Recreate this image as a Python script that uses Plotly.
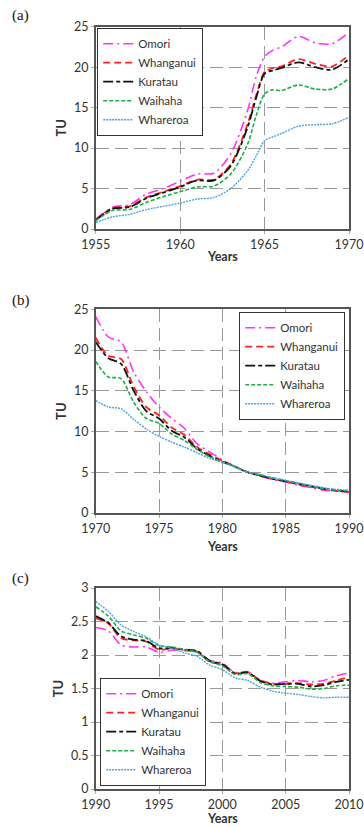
import plotly.graph_objects as go

# ---------------- data ----------------
names = ["Omori", "Whanganui", "Kuratau", "Waihaha", "Whareroa"]

years_a = [1955, 1956, 1957, 1958, 1959, 1960, 1961, 1962, 1963, 1964, 1964.5,
           1965, 1965.5, 1966, 1967, 1968, 1969, 1970]
omori_a = [1.2, 2.7, 3.0, 4.3, 5.0, 5.9, 6.8, 6.9, 9.3, 14.7, 18.8,
           21.3, 22.1, 22.5, 23.8, 23.0, 22.9, 24.3]
whanganui_a = [1.1, 2.6, 2.8, 3.9, 4.6, 5.3, 6.1, 6.1, 8.0, 13.0, 16.5,
               19.4, 19.9, 20.1, 21.0, 20.4, 20.1, 21.5]
kuratau_a = [1.1, 2.5, 2.7, 3.8, 4.5, 5.2, 6.0, 6.0, 7.8, 12.6, 16.2,
             19.2, 19.6, 19.9, 20.6, 20.0, 19.7, 21.0]
waihaha_a = [1.0, 2.3, 2.4, 3.3, 4.0, 4.6, 5.2, 5.3, 6.8, 10.5, 14.0,
             16.7, 17.2, 17.1, 17.8, 17.3, 17.3, 18.6]
whareroa_a = [0.8, 1.5, 1.8, 2.4, 2.8, 3.2, 3.7, 3.9, 5.0, 7.2, 9.0,
              10.9, 11.4, 11.8, 12.7, 12.9, 13.0, 13.8]

years_b = list(range(1970, 1991))
omori_b = [24.1, 21.6, 21.0, 17.3, 14.9, 13.0, 11.6, 10.4, 8.5, 7.5, 6.5,
           5.7, 5.0, 4.5, 4.1, 3.8, 3.4, 3.1, 2.8, 2.7, 2.6]
whanganui_b = [21.5, 19.3, 18.9, 15.5, 13.0, 12.0, 10.5, 9.6, 8.1, 7.2, 6.4,
               5.7, 5.0, 4.6, 4.2, 3.9, 3.5, 3.2, 2.9, 2.7, 2.6]
kuratau_b = [21.0, 19.0, 18.3, 15.0, 12.5, 11.6, 10.1, 9.3, 7.9, 7.0, 6.3,
             5.7, 5.0, 4.6, 4.2, 3.9, 3.6, 3.3, 3.0, 2.8, 2.6]
waihaha_b = [18.6, 16.7, 16.5, 13.6, 11.6, 11.0, 9.7, 8.9, 7.8, 6.9, 6.3,
             5.7, 5.0, 4.7, 4.3, 4.0, 3.6, 3.3, 3.0, 2.8, 2.7]
whareroa_b = [13.8, 13.0, 12.8, 11.5, 10.3, 9.4, 8.7, 8.1, 7.4, 6.7, 6.2,
              5.6, 5.0, 4.7, 4.3, 4.0, 3.7, 3.4, 3.1, 2.9, 2.8]

years_c = list(range(1990, 2011))
omori_c = [2.41, 2.36, 2.15, 2.12, 2.12, 2.04, 2.07, 2.07, 2.04, 1.92, 1.88,
           1.74, 1.75, 1.62, 1.58, 1.60, 1.62, 1.60, 1.62, 1.69, 1.73]
whanganui_c = [2.55, 2.47, 2.25, 2.22, 2.20, 2.08, 2.10, 2.07, 2.05, 1.90, 1.86,
               1.73, 1.74, 1.62, 1.57, 1.57, 1.58, 1.56, 1.57, 1.62, 1.67]
kuratau_c = [2.58, 2.48, 2.28, 2.23, 2.21, 2.10, 2.11, 2.08, 2.06, 1.91, 1.86,
             1.72, 1.74, 1.61, 1.56, 1.57, 1.57, 1.53, 1.55, 1.60, 1.63]
waihaha_c = [2.72, 2.58, 2.36, 2.30, 2.25, 2.14, 2.12, 2.08, 2.04, 1.90, 1.84,
             1.71, 1.72, 1.59, 1.54, 1.53, 1.52, 1.49, 1.50, 1.54, 1.55]
whareroa_c = [2.80, 2.65, 2.45, 2.35, 2.27, 2.15, 2.10, 2.03, 1.98, 1.85, 1.78,
              1.66, 1.62, 1.52, 1.46, 1.43, 1.41, 1.38, 1.36, 1.37, 1.37]

panel_labels = ["(a)", "(b)", "(c)"]
x_ticks_a = [1955, 1960, 1965, 1970]
x_ticks_b = [1970, 1975, 1980, 1985, 1990]
x_ticks_c = [1990, 1995, 2000, 2005, 2010]
y_ticks_ab = [0, 5, 10, 15, 20, 25]
y_ticks_c = [0, 0.5, 1, 1.5, 2, 2.5, 3]
y_ticktext_c = ["0", "0.5", "1", "1.5", "2", "2.5", "3"]

# ---------------- styles ----------------
colors = ["#FF33FF", "#FF2222", "#111111", "#1DB04A", "#4AA3E0"]
dashes = ["10px,4px,2px,4px", "7px,4px", "10px,3px,4px,3px", "4px,2px", "2px,1px"]
widths = [1.6, 1.8, 1.8, 1.6, 1.4]

W, H = 364, 827
FONT = "Lato"
x0, x1 = 95.7 / W, 349 / W
doms = [(1 - 229 / H, 1 - 26.7 / H), (1 - 513 / H, 1 - 309.3 / H), (1 - 789 / H, 1 - 588 / H)]

fig = go.Figure()

panels = [
    (years_a, [omori_a, whanganui_a, kuratau_a, waihaha_a, whareroa_a]),
    (years_b, [omori_b, whanganui_b, kuratau_b, waihaha_b, whareroa_b]),
    (years_c, [omori_c, whanganui_c, kuratau_c, waihaha_c, whareroa_c]),
]
legend_ids = ["legend", "legend2", "legend3"]
for p, (xs, series) in enumerate(panels):
    suffix = "" if p == 0 else str(p + 1)
    for i, ys in enumerate(series):
        fig.add_trace(go.Scatter(
            x=xs, y=ys, mode="lines", name=names[i],
            line=dict(color=colors[i], dash=dashes[i], width=widths[i],
                      shape="spline", smoothing=0.8),
            xaxis="x" + suffix, yaxis="y" + suffix,
            legend=legend_ids[p],
        ))

grid = dict(showgrid=True, gridcolor="#9a9a9a", gridwidth=1.3, griddash="13px,6px",
            zeroline=False, showline=True, linecolor="#555555", linewidth=1.5,
            mirror=True, ticks="outside", ticklen=3, tickcolor="#aaaaaa",
            automargin=False,
            tickfont=dict(family=FONT, size=12.5, color="#333333"))

xranges = [[1955, 1970], [1970, 1990], [1990, 2010]]
xticks = [x_ticks_a, x_ticks_b, x_ticks_c]
yranges = [[0, 25], [0, 25], [0, 3]]
layout = {}
for p in range(3):
    suffix = "" if p == 0 else str(p + 1)
    xd = dict(grid, domain=[x0, x1], range=xranges[p],
              tickvals=xticks[p], anchor="y" + suffix)
    layout["xaxis" + suffix] = xd
    yd = dict(grid, domain=list(doms[p]), range=yranges[p], anchor="x" + suffix,
              title=dict(text="<b>TU</b>", font=dict(family=FONT, size=13, color="#333333"),
                         standoff=4))
    if p < 2:
        yd["tickvals"] = y_ticks_ab
    else:
        yd["tickvals"] = y_ticks_c
        yd["ticktext"] = y_ticktext_c
    layout["yaxis" + suffix] = yd

legend_common = dict(bgcolor="white", bordercolor="#333333", borderwidth=1.2,
                     font=dict(family=FONT, size=11.5, color="#333333"),
                     tracegroupgap=0, itemwidth=30)
layout["legend"] = dict(legend_common, x=97 / W, y=1 - 28 / H, xanchor="left", yanchor="top")
layout["legend2"] = dict(legend_common, x=345 / W, y=1 - 312 / H, xanchor="right", yanchor="top")
layout["legend3"] = dict(legend_common, x=100 / W, y=1 - 786 / H, xanchor="left", yanchor="bottom")

annotations = []
label_y = [15, 300, 578]
for p in range(3):
    annotations.append(dict(text=panel_labels[p], x=10 / W, y=1 - label_y[p] / H,
                            xref="paper", yref="paper", xanchor="left", yanchor="middle",
                            showarrow=False,
                            font=dict(family="Liberation Serif", size=15, color="#111111")))
# "Years" titles
years_pos = [(1 - 256 / H, "middle"), (1 - 546 / H, "middle"), (0.0, "bottom")]
for p in range(3):
    annotations.append(dict(text="<b>Years</b>", x=(x0 + x1) / 2, y=years_pos[p][0],
                            xref="paper", yref="paper", xanchor="center",
                            yanchor=years_pos[p][1], showarrow=False, borderpad=0,
                            font=dict(family=FONT, size=12.5, color="#333333")))

fig.update_layout(
    width=W, height=H, margin=dict(l=0, r=0, t=0, b=0, autoexpand=False),
    paper_bgcolor="white", plot_bgcolor="white",
    showlegend=True, annotations=annotations, **layout,
)

fig.write_html("out.html")
